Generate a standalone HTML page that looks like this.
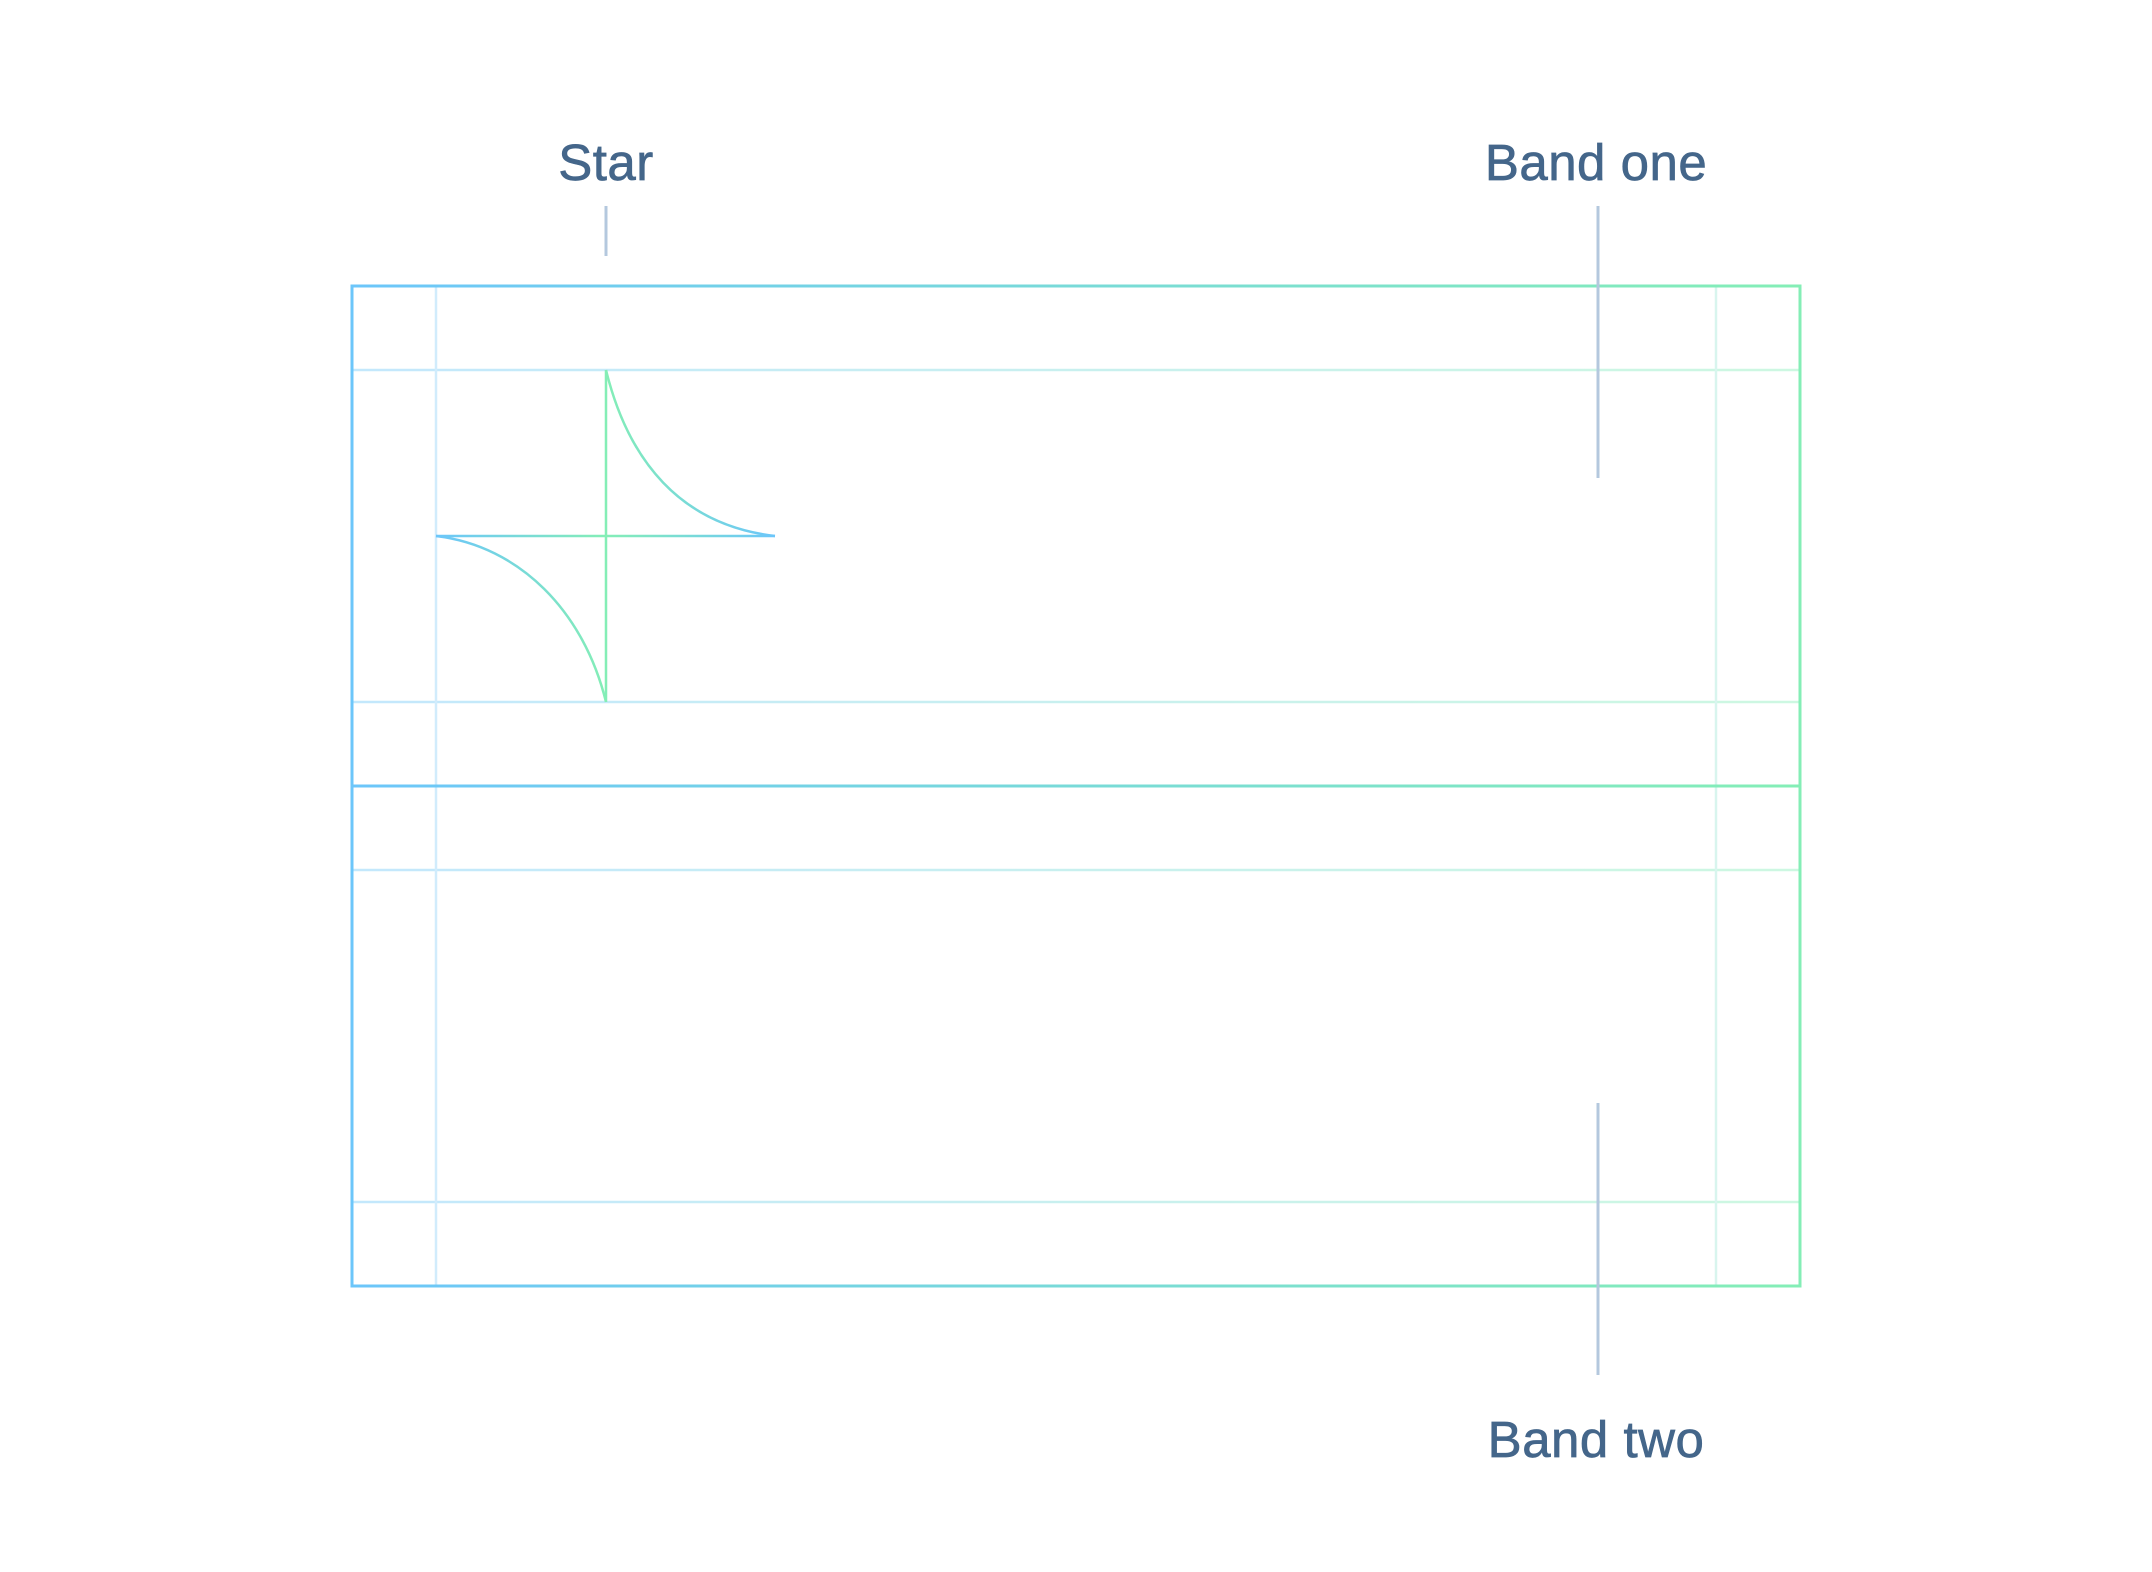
<!DOCTYPE html>
<html><head><meta charset="utf-8"><style>
html,body{margin:0;padding:0;background:#fff;}
svg{display:block;}
text{font-family:"Liberation Sans",sans-serif;fill:#44668a;font-size:51px;stroke:#44668a;stroke-width:0.7;letter-spacing:0.5px;}
</style></head><body>
<svg width="2152" height="1572" viewBox="0 0 2152 1572">
<defs>
<linearGradient id="g" x1="352" y1="0" x2="1800" y2="0" gradientUnits="userSpaceOnUse"><stop offset="0" stop-color="#6cc6fa"/><stop offset="1" stop-color="#84eeb6"/></linearGradient>
<linearGradient id="gs" x1="436" y1="0" x2="775" y2="0" gradientUnits="userSpaceOnUse"><stop offset="0" stop-color="#6cc6fa"/><stop offset="0.5" stop-color="#84eeb6"/><stop offset="1" stop-color="#6cc6fa"/></linearGradient>
</defs>
<g stroke="url(#g)" stroke-width="2.5" opacity="0.4">
<line x1="352" y1="370" x2="1800" y2="370"/>
<line x1="352" y1="702" x2="1800" y2="702"/>
<line x1="352" y1="870" x2="1800" y2="870"/>
<line x1="352" y1="1202" x2="1800" y2="1202"/>
<line x1="436" y1="286" x2="436" y2="1286" stroke="#8fd2fa"/>
<line x1="1716" y1="286" x2="1716" y2="1286" stroke="#9fe8d6"/>
</g>
<g fill="none" stroke="url(#g)" stroke-width="3">
<rect x="352" y="286" width="1448" height="1000"/>
<line x1="352" y1="786" x2="1800" y2="786"/>
</g>
<g fill="none" stroke-width="2.5">
<line x1="606" y1="370" x2="606" y2="702" stroke="#84eeb6"/>
<line x1="436" y1="536" x2="775" y2="536" stroke="url(#gs)"/>
<path d="M606,370 C628,460 680,525 775,536" stroke="url(#gs)"/>
<path d="M436,536 C520,546 584,612 606,702" stroke="url(#gs)"/>
</g>
<g stroke="#b4c8de" stroke-width="3">
<line x1="606" y1="206" x2="606" y2="256"/>
<line x1="1598" y1="206" x2="1598" y2="478"/>
<line x1="1598" y1="1103" x2="1598" y2="1375"/>
</g>
<text x="606" y="180" text-anchor="middle">Star</text>
<text x="1596" y="180" text-anchor="middle">Band one</text>
<text x="1596" y="1457" text-anchor="middle">Band two</text>
</svg>
</body></html>
